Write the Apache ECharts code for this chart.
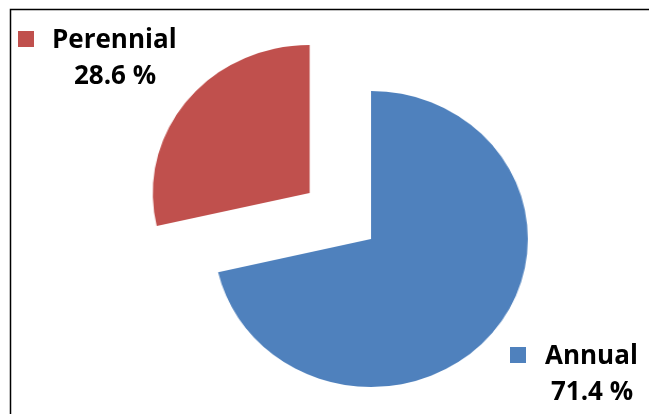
<!DOCTYPE html>
<html>
<head>
<meta charset="utf-8">
<script src="https://cdn.jsdelivr.net/npm/echarts@6/dist/echarts.min.js"></script>
<style>
html,body{margin:0;padding:0;background:#fff;}
#wrap{position:relative;width:649px;height:414px;overflow:hidden;background:#fff;}
#pie,#labels{position:absolute;left:0;top:0;width:649px;height:414px;}
#pie{transform:scaleX(1.06);transform-origin:371px 239px;}
</style>
</head>
<body>
<div id="wrap">
  <div id="pie"></div>
  <div id="labels"></div>
</div>
<script>
// Data
const categories = ['Annual', 'Perennial'];
const percents = [71.4, 28.6];
const exploded = [false, true];

// Styles / layout (not data)
const sliceColors = ['#4F81BD', '#C0504D'];
const labelLayout = [
  { sq: [510, 347, 16, 16], nameX: 545, nameY: 357, pctX: 592, pctY: 393 },
  { sq: [18, 31, 16, 16], nameX: 52, nameY: 41, pctX: 115, pctY: 77 }
];

const pieChart = echarts.init(document.getElementById('pie'), null, { renderer: 'canvas' });
const labelChart = echarts.init(document.getElementById('labels'), null, { renderer: 'canvas' });

pieChart.setOption({
  animation: false,
  series: [{
    type: 'pie',
    center: [371, 239],
    radius: 148,
    startAngle: 90,
    clockwise: true,
    selectedMode: 'single',
    selectedOffset: 74,
    label: { show: false },
    labelLine: { show: false },
    emphasis: { disabled: true },
    itemStyle: { borderWidth: 0 },
    data: categories.map(function (name, i) {
      return {
        name: name,
        value: percents[i],
        selected: exploded[i],
        itemStyle: { color: sliceColors[i] }
      };
    })
  }]
});

const graphics = [
  {
    type: 'rect',
    shape: { x: 10.5, y: 9.5, width: 700, height: 500 },
    style: { fill: 'none', stroke: '#000', lineWidth: 1.5 },
    silent: true, z: 10
  }
];
categories.forEach(function (name, i) {
  const L = labelLayout[i];
  graphics.push({
    type: 'rect',
    shape: { x: L.sq[0], y: L.sq[1], width: L.sq[2], height: L.sq[3] },
    style: { fill: sliceColors[i] },
    silent: true, z: 20
  });
  graphics.push({
    type: 'text', x: L.nameX, y: L.nameY, z: 20, silent: true,
    style: {
      text: name, fill: '#000', align: 'left', verticalAlign: 'middle',
      font: 'bold 26px "Open Sans", "Liberation Sans", sans-serif'
    }
  });
  graphics.push({
    type: 'text', x: L.pctX, y: L.pctY, z: 20, silent: true,
    style: {
      text: percents[i].toFixed(1) + ' %', fill: '#000', align: 'center', verticalAlign: 'middle',
      font: 'bold 26px "Open Sans", "Liberation Sans", sans-serif'
    }
  });
});

labelChart.setOption({
  animation: false,
  graphic: graphics
});
</script>
</body>
</html>
